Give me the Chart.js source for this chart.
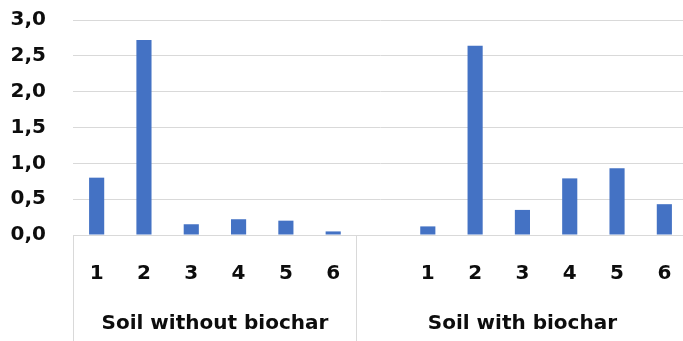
<!DOCTYPE html>
<html>
<head>
  <meta charset="UTF-8">
  <style>
    html, body { margin: 0; padding: 0; overflow: hidden; background: #fff; }
    #wrap { width: 690px; height: 341px; }
  </style>
</head>
<body>
  <div id="wrap"><canvas id="chart"></canvas></div>

  <script src="https://cdn.jsdelivr.net/npm/chart.js"></script>
  <script>
    // values
    const samples = ['1', '2', '3', '4', '5', '6']
    const withoutBiochar = [0.80, 2.72, 0.15, 0.22, 0.20, 0.05]
    const withBiochar = [0.12, 2.64, 0.35, 0.79, 0.93, 0.43]
    const groupNames = ['Soil without biochar', 'Soil with biochar']
    const yTicks = [0, 0.5, 1, 1.5, 2, 2.5, 3]

    // second group has one blank slot in front of it
    const labels = [...samples, '', ...samples]
    const values = [...withoutBiochar, null, ...withBiochar]
    const groupEdges = [0, samples.length, labels.length]
    const groupCenters = [samples.length / 2, (samples.length + labels.length) / 2]

    const lineGray = '#d9d9d9'
    const clear = 'rgba(0,0,0,0)'
    const textColor = '#0d0d0d'

    Chart.defaults.font.family = '"DejaVu Sans", sans-serif'
    Chart.defaults.font.size = 20
    Chart.defaults.font.weight = 'bold'
    Chart.defaults.color = textColor

    const ctx = document.getElementById('chart')
    new Chart(ctx, {
      type: 'bar',
      data: {
        labels: labels,
        datasets: [{
          data: values,
          backgroundColor: '#4472C4',
          categoryPercentage: 1,
          barPercentage: 0.32
        }]
      },
      options: {
        responsive: true,
        maintainAspectRatio: false,
        animation: false,
        layout: { padding: { top: 20, right: 2, bottom: 0, left: 0 } },
        plugins: { legend: { display: false }, tooltip: { enabled: false } },
        scales: {
          y: {
            min: 0,
            max: 3,
            afterBuildTicks: (scale) => { scale.ticks = yTicks.map(v => ({ value: v })) },
            afterFit: (scale) => { scale.width = 73 },
            border: { display: false },
            grid: { color: lineGray, tickLength: 27, tickColor: clear },
            ticks: {
              padding: 0,
              callback: (v) => v.toFixed(1).replace('.', ',')
            }
          },
          // sample numbers; separator ticks run the full height of the row
          x: {
            offset: true,
            afterFit: (scale) => { scale.height = 51 },
            border: { display: true, color: lineGray },
            grid: {
              offset: true,
              drawOnChartArea: false,
              tickLength: 51,
              tickColor: (c) => groupEdges.includes(c.index) ? lineGray : clear
            },
            ticks: { padding: -24, maxRotation: 0, autoSkip: false }
          },
          // group row underneath, on a 0..13 slot scale
          x2: {
            type: 'linear',
            position: 'bottom',
            offset: false,
            min: 0,
            max: labels.length,
            afterBuildTicks: (scale) => {
              scale.ticks = [...groupEdges, ...groupCenters].sort((a, b) => a - b).map(v => ({ value: v }))
            },
            afterFit: (scale) => { scale.height = 55 },
            border: { display: false },
            grid: {
              offset: false,
              drawOnChartArea: false,
              tickLength: 56,
              tickColor: (c) => c.tick && groupEdges.includes(c.tick.value) ? lineGray : clear
            },
            ticks: {
              padding: -30,
              maxRotation: 0,
              autoSkip: false,
              callback: (v) => {
                const i = groupCenters.indexOf(v)
                return i >= 0 ? groupNames[i] : ''
              }
            }
          }
        }
      }
    })
  </script>
</body>
</html>
